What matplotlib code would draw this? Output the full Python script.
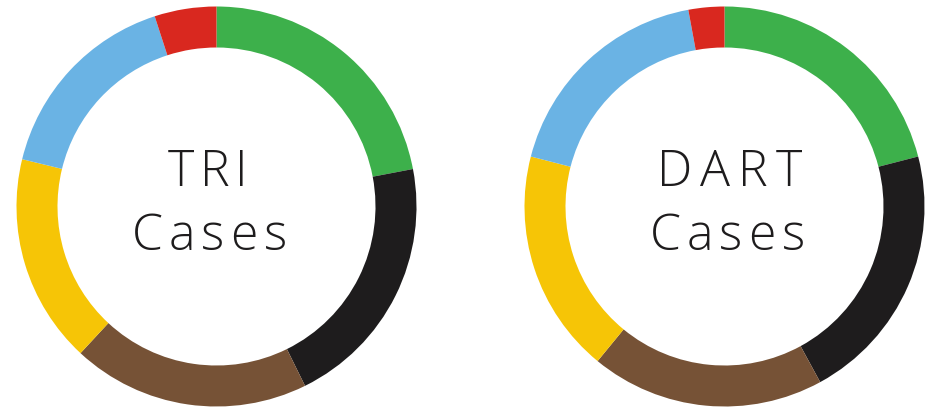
import matplotlib
matplotlib.use("Agg")
import matplotlib.pyplot as plt

# segment shares, clockwise from 12 o'clock
categories = ["Green", "Black", "Brown", "Yellow", "Blue", "Red"]
tri_values = [22.0, 20.7, 19.2, 16.9, 16.2, 5.0]
dart_values = [21.0, 21.1, 18.9, 18.1, 18.1, 2.9]
colors = ["#3DB04B", "#1E1C1D", "#765236", "#F6C506", "#6AB3E4", "#D9281F"]
titles = ["TRI", "DART"]

W, H = 935, 409
FONT = dict(fontsize=36, fontfamily="Open Sans", fontweight="light", color="#1E1C1D")

fig = plt.figure(figsize=(W / 100, H / 100), dpi=100)
ax = fig.add_axes([0, 0, 1, 1])
ax.set_xlim(0, W)
ax.set_ylim(0, H)
ax.set_aspect("equal")
renderer = fig.canvas.get_renderer()


def tracked_text(s, left, right, y):
    """Draw s letter by letter, spread so it spans left..right (pixels)."""
    parts = [ax.text(0, y, ch, ha="left", va="baseline", **FONT) for ch in s]
    widths = [p.get_window_extent(renderer).width for p in parts]
    gap = (right - left - sum(widths)) / max(len(s) - 1, 1)
    x = left
    for p, w in zip(parts, widths):
        p.set_x(x)
        x += w + gap


centers = [(216.5, H - 206.5), (724.5, H - 206.5)]
title_span = [(168, 248), (657, 802)]
cases_span = [(132, 287), (650, 805)]

for values, center, title, tspan, cspan in zip(
        [tri_values, dart_values], centers, titles, title_span, cases_span):
    ax.pie(values, colors=colors, startangle=90, counterclock=False,
           center=center, radius=200, frame=True,
           wedgeprops=dict(width=41, linewidth=0))
    tracked_text(title, tspan[0], tspan[1], H - 186.5)
    tracked_text("Cases", cspan[0], cspan[1], H - 250)

ax.set_xlim(0, W)
ax.set_ylim(0, H)
ax.axis("off")
fig.savefig("out.png", dpi=100)
